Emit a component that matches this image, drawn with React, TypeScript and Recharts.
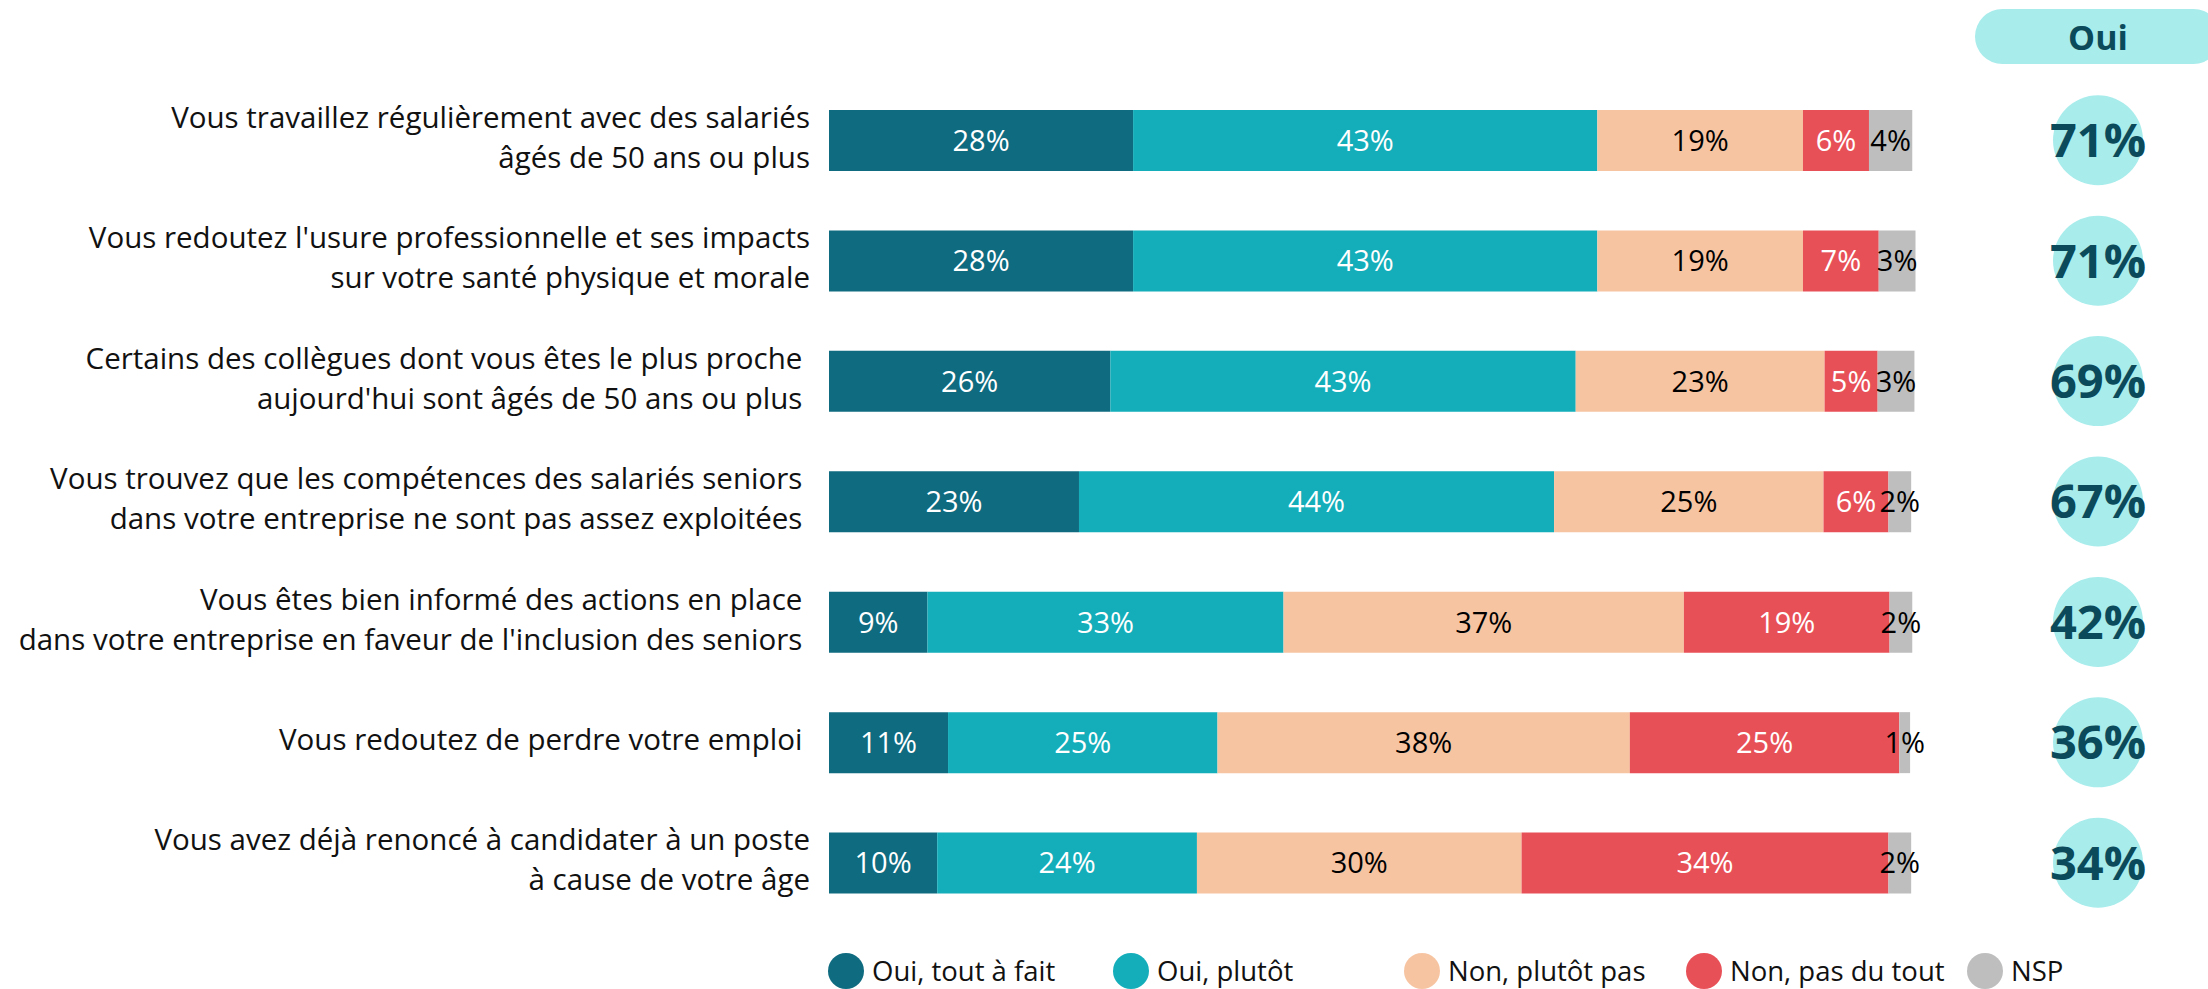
import { BarChart, Bar, XAxis, YAxis, Legend, LabelList } from "recharts"

const FONT = "'Open Sans', 'Noto Sans', sans-serif"

const categories = [
  "Vous travaillez régulièrement avec des salariés\nâgés de 50 ans ou plus",
  "Vous redoutez l'usure professionnelle et ses impacts\nsur votre santé physique et morale",
  "Certains des collègues dont vous êtes le plus proche\u00a0\naujourd'hui sont âgés de 50 ans ou plus\u00a0",
  "Vous trouvez que les compétences des salariés seniors\u00a0\ndans votre entreprise ne sont pas assez exploitées\u00a0",
  "Vous êtes bien informé des actions en place\u00a0\ndans votre entreprise en faveur de l'inclusion des seniors\u00a0",
  "Vous redoutez de perdre votre emploi\u00a0",
  "Vous avez déjà renoncé à candidater à un poste\nà cause de votre âge",
]

const toutAFait = [28.1, 28.1, 26.0, 23.1, 9.1, 11.0, 10.0]
const plutot = [42.9, 42.9, 43.0, 43.9, 32.9, 24.9, 24.0]
const plutotPas = [19.0, 19.0, 23.0, 24.9, 37.0, 38.1, 30.0]
const pasDuTout = [6.1, 7.0, 4.9, 6.0, 19.0, 24.9, 33.9]
const nsp = [4.0, 3.4, 3.4, 2.1, 2.1, 1.0, 2.1]

const ouiTotals = [71, 71, 69, 67, 42, 36, 34]

const series = [
  { key: "toutAFait", name: "Oui, tout à fait", color: "#0E6B80", text: "#ffffff" },
  { key: "plutot", name: "Oui, plutôt", color: "#13AEBA", text: "#ffffff" },
  { key: "plutotPas", name: "Non, plutôt pas", color: "#F7C4A2", text: "#000000" },
  { key: "pasDuTout", name: "Non, pas du tout", color: "#E85057", text: "#ffffff" },
  { key: "nsp", name: "NSP", color: "#BEBEBE", text: "#000000" },
]

const data = categories.map((name, i) => ({
  name,
  toutAFait: toutAFait[i],
  plutot: plutot[i],
  plutotPas: plutotPas[i],
  pasDuTout: pasDuTout[i],
  nsp: nsp[i],
}))

const legendWidths = [285, 291, 282, 281, 120]

function CategoryTick(props: any) {
  const { x, y, payload } = props
  const lines = String(payload.value).split("\n")
  const lh = 40
  const top = y - ((lines.length - 1) * lh) / 2 - 3
  return (
    <g>
      {lines.map((line, i) => (
        <text
          key={i}
          x={x}
          y={top + i * lh}
          dy="0.36em"
          textAnchor="end"
          fontSize={29.5}
          fontFamily={FONT}
          fill="#111111"
        >
          {line}
        </text>
      ))}
    </g>
  )
}

function OuiTick(props: any) {
  const { x, y, payload } = props
  const idx = props.index ?? payload.index ?? 0
  return (
    <g>
      <circle cx={x} cy={y} r={45} fill="#A8ECEC" />
      <text
        x={x}
        y={y}
        dy="0.36em"
        textAnchor="middle"
        fontSize={47}
        fontWeight={700}
        fontFamily={FONT}
        fill="#0B4A5A"
      >
        {ouiTotals[idx]}%
      </text>
    </g>
  )
}

function renderLegend() {
  return (
    <div style={{ display: "flex", fontFamily: FONT, fontSize: 27.5, color: "#111" }}>
      {series.map((s, i) => (
        <div key={s.key} style={{ width: legendWidths[i], display: "flex", alignItems: "center" }}>
          <span
            style={{
              display: "inline-block",
              width: 36,
              height: 36,
              borderRadius: "50%",
              background: s.color,
              marginRight: 8,
            }}
          />
          <span>{s.name}</span>
        </div>
      ))}
    </div>
  )
}

export default function App() {
  return (
    <div
      style={{
        position: "absolute",
        left: 0,
        top: 0,
        width: 2208,
        height: 989,
        overflow: "hidden",
        background: "#ffffff",
      }}
    >
      <BarChart
        width={2208}
        height={989}
        data={data}
        layout="vertical"
        margin={{ top: 80, right: 0, bottom: 66, left: 0 }}
        barCategoryGap={0}
      >
        <XAxis type="number" domain={[0, 101]} hide />
        <YAxis
          yAxisId="left"
          type="category"
          dataKey="name"
          width={829}
          axisLine={false}
          tickLine={false}
          tickSize={0}
          tickMargin={19}
          tick={<CategoryTick />}
          interval={0}
        />
        <YAxis
          yAxisId="right"
          orientation="right"
          type="category"
          dataKey="name"
          width={286}
          axisLine={false}
          tickLine={false}
          tickSize={0}
          tickMargin={176}
          tick={<OuiTick />}
          interval={0}
        />
        <Legend
          layout="vertical"
          align="center"
          verticalAlign="middle"
          content={renderLegend}
          wrapperStyle={{ left: 828, top: 952, width: 1400, height: 40 }}
        />
        {series.map((s) => (
          <Bar
            key={s.key}
            yAxisId="left"
            dataKey={s.key}
            name={s.name}
            stackId="a"
            fill={s.color}
            barSize={61}
            isAnimationActive={false}
          >
            <LabelList
              dataKey={s.key}
              position="center"
              fill={s.text}
              fontSize={29}
              fontFamily={FONT}
              formatter={(v: any) => `${Math.round(Number(v))}%`}
            />
          </Bar>
        ))}
      </BarChart>
      <div
        style={{
          position: "absolute",
          left: 1975,
          top: 9,
          width: 246,
          height: 55,
          borderRadius: 28,
          background: "#A8ECEC",
          color: "#0B4A5A",
          fontFamily: FONT,
          fontWeight: 700,
          fontSize: 34,
          display: "flex",
          alignItems: "center",
          justifyContent: "center",
        }}
      >
        Oui
      </div>
    </div>
  )
}
